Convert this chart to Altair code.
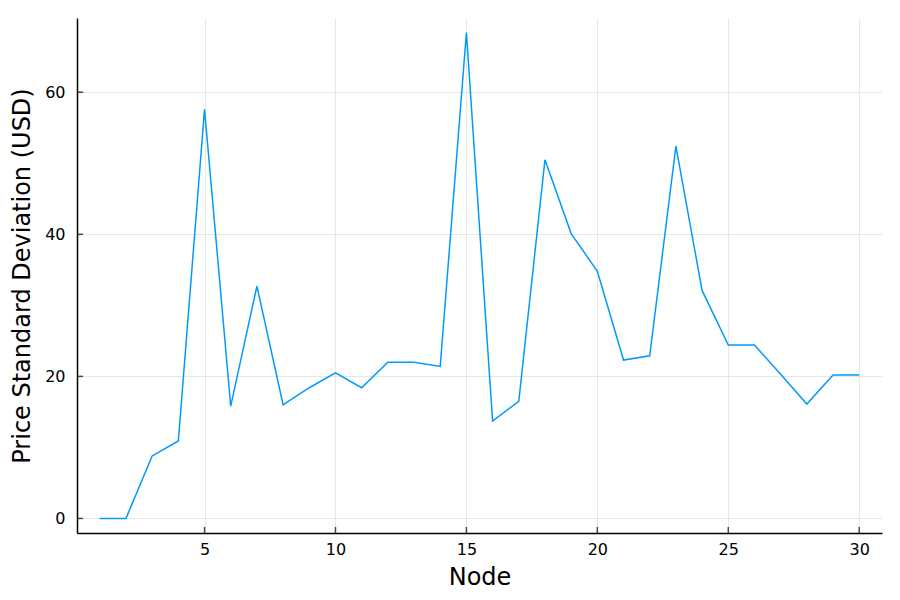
import altair as alt
import pandas as pd

nodes = list(range(1, 31))
std_usd = [0.0, 0.0, 8.8, 10.9, 57.6, 15.8, 32.7, 16.0, 18.4, 20.5,
           18.4, 22.0, 22.0, 21.4, 68.4, 13.7, 16.5, 50.5, 40.1, 34.8,
           22.3, 22.9, 52.4, 32.1, 24.4, 24.4, 20.3, 16.1, 20.2, 20.2]
x_ticks = [5, 10, 15, 20, 25, 30]
y_ticks = [0, 20, 40, 60]

df = pd.DataFrame({"Node": nodes, "Std": std_usd})
xt = pd.DataFrame({"t": x_ticks})
yt = pd.DataFrame({"t": y_ticks})

XMIN, XMAX = 0.13, 30.87
YMIN, YMAX = -2.05, 70.45
FONT = "DejaVu Sans"

xs = alt.Scale(domain=[XMIN, XMAX], nice=False, zero=False)
ys = alt.Scale(domain=[YMIN, YMAX], nice=False, zero=False)

line = alt.Chart(df).mark_line(color="#009AFA", strokeWidth=1.5, clip=True).encode(
    x=alt.X("Node:Q", scale=xs,
            axis=alt.Axis(title="Node", values=x_ticks, tickSize=0, labelPadding=8,
                          grid=True, gridColor="#e6e6e6", gridWidth=1,
                          domainColor="black", domainWidth=1.5,
                          labelFont=FONT, labelFontSize=16, labelColor="black",
                          titleFont=FONT, titleFontSize=24, titleFontWeight="normal",
                          titleColor="black", titlePadding=8)),
    y=alt.Y("Std:Q", scale=ys,
            axis=alt.Axis(title="Price Standard Deviation (USD)", values=y_ticks,
                          tickSize=0, labelPadding=12,
                          grid=True, gridColor="#e6e6e6", gridWidth=1,
                          domainColor="black", domainWidth=1.5,
                          labelFont=FONT, labelFontSize=16, labelColor="black",
                          titleFont=FONT, titleFontSize=24, titleFontWeight="normal",
                          titleColor="black", titlePadding=10)),
)

xtick = alt.Chart(xt).mark_tick(color="black", thickness=1.5, size=6, yOffset=-3,
                                orient="vertical").encode(
    x=alt.X("t:Q", scale=xs),
    y=alt.datum(YMIN, scale=ys),
)
ytick = alt.Chart(yt).mark_tick(color="black", thickness=1.5, size=6, xOffset=3,
                                orient="horizontal").encode(
    y=alt.Y("t:Q", scale=ys),
    x=alt.datum(XMIN, scale=xs),
)

chart = alt.layer(line, xtick, ytick).properties(
    width=805, height=515,
    autosize=alt.AutoSizeParams(type="none"),
    padding={"left": 69, "top": 10, "right": 10, "bottom": 60},
    background="white",
).configure_view(stroke=None)

chart.save("out.html", embed_options={"renderer": "svg", "actions": False})
